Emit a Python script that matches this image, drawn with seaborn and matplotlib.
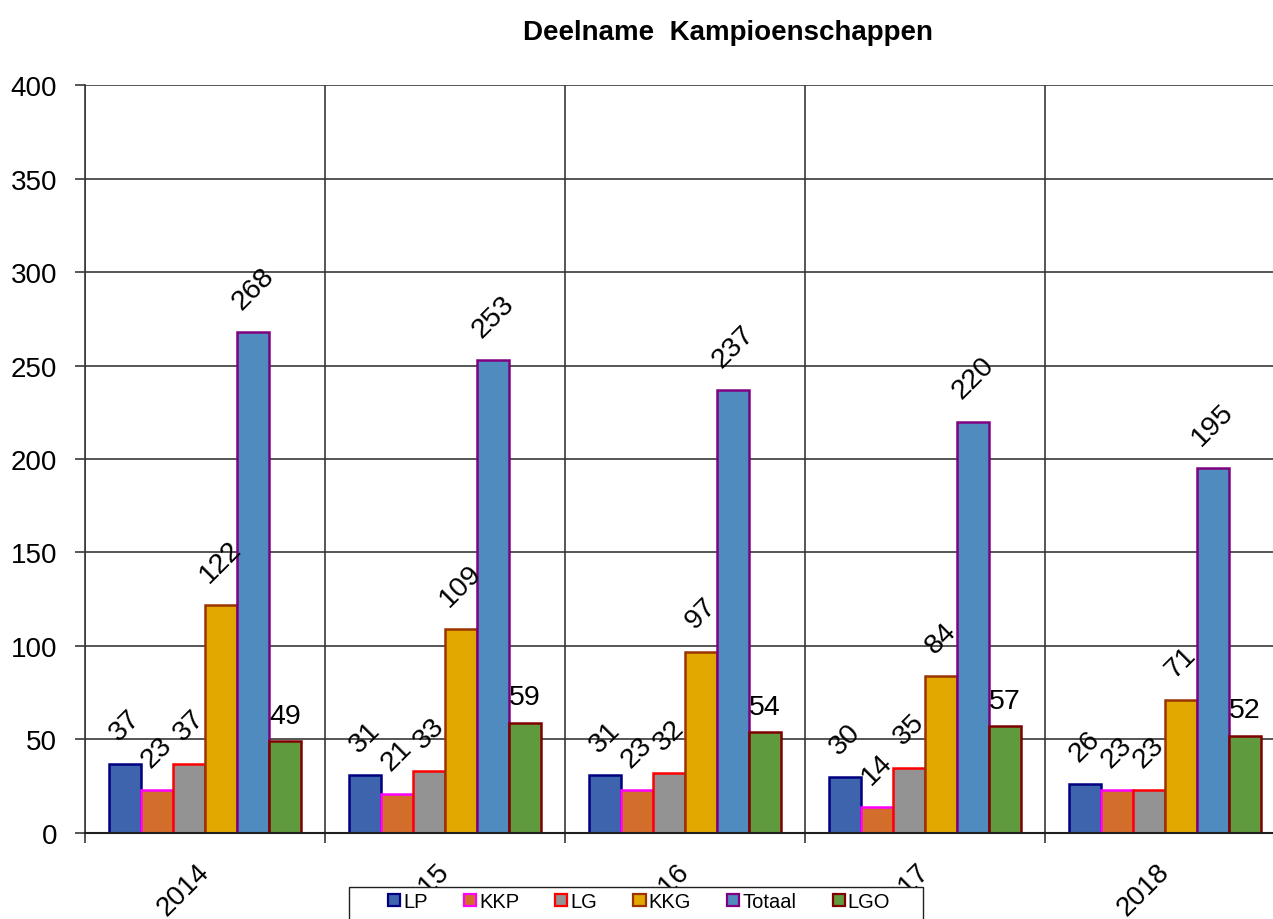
import matplotlib
matplotlib.use("Agg")
import matplotlib.pyplot as plt
from matplotlib.patches import Patch, Rectangle
import pandas as pd
import seaborn as sns

# data
jaren = ["2014", "2015", "2016", "2017", "2018"]
series = ["LP", "KKP", "LG", "KKG", "Totaal", "LGO"]
lp = [37, 31, 31, 30, 26]
kkp = [23, 21, 23, 14, 23]
lg = [37, 33, 32, 35, 23]
kkg = [122, 109, 97, 84, 71]
totaal = [268, 253, 237, 220, 195]
lgo = [49, 59, 54, 57, 52]

fill_colors = ["#3F64AE", "#D36D2C", "#939393", "#E2A800", "#4F8BBE", "#5F9A3E"]
edge_colors = ["#000080", "#FF00FF", "#FF0000", "#993300", "#800080", "#800000"]

df = pd.DataFrame({"LP": lp, "KKP": kkp, "LG": lg, "KKG": kkg,
                   "Totaal": totaal, "LGO": lgo}, index=jaren)
df = df.reset_index(names="jaar").melt(id_vars="jaar", var_name="serie",
                                       value_name="aantal")

sns.set_style("white")
plt.rcParams["font.family"] = ["Liberation Sans", "DejaVu Sans"]
plt.rcParams["text.color"] = "black"
plt.rcParams["xtick.labelcolor"] = "black"
plt.rcParams["ytick.labelcolor"] = "black"

fig = plt.figure(figsize=(12.73, 9.2), dpi=100)
ax = fig.add_axes([0.0668, 0.0935, 0.9427, 0.813])

sns.barplot(data=df, x="jaar", y="aantal", hue="serie", hue_order=series,
            order=jaren, palette=fill_colors, saturation=1, width=0.8,
            errorbar=None, legend=False, ax=ax)

for i, cont in enumerate(ax.containers):
    for bar in cont:
        bar.set_edgecolor(edge_colors[i])
        bar.set_linewidth(1.8)
    if series[i] == "LGO":
        ax.bar_label(cont, padding=9, fontsize=20.5, color="black")
    else:
        ax.bar_label(cont, padding=13, rotation=45, fontsize=20.5,
                     color="black")

ax.set_xlim(-0.5, 4.5)
ax.set_ylim(0, 400)
ax.set_yticks(range(0, 401, 50))
ax.set_xticks([-0.5, 0.5, 1.5, 2.5, 3.5, 4.5], minor=True)
ax.set_axisbelow(True)
ax.yaxis.grid(True, color="#383838", linewidth=1.2)
ax.xaxis.grid(True, which="minor", color="#383838", linewidth=1.2)
ax.tick_params(axis="x", which="major", length=0, pad=25, labelsize=20)
ax.tick_params(axis="x", which="minor", direction="out", length=7,
               width=1.2, color="#383838", bottom=True)
ax.tick_params(axis="y", direction="out", length=7, width=1.2,
               color="#383838", pad=13, labelsize=20, left=True)
for lbl in ax.get_xticklabels():
    lbl.set_rotation(45)
    lbl.set_rotation_mode("anchor")
    lbl.set_ha("right")
    lbl.set_va("center")
ax.set_xlabel("")
ax.set_ylabel("")
for side in ["top", "right"]:
    ax.spines[side].set_visible(False)
ax.spines["left"].set_color("#383838")
ax.spines["bottom"].set_color("#202020")
ax.spines["left"].set_linewidth(1.2)
ax.spines["bottom"].set_linewidth(1.5)

fig.text(0.572, 0.964, "Deelname  Kampioenschappen", ha="center",
         va="center", fontsize=20, fontweight="bold")

# legend box covers the lower part of the year labels, as in the original
box = Rectangle((349 / 1273, -0.01), 574 / 1273, (32 + 9) / 920,
                transform=fig.transFigure, facecolor="white",
                edgecolor="#202020", linewidth=1.0, zorder=9)
fig.patches.append(box)

handles = [Patch(facecolor=f, edgecolor=e, linewidth=1.6)
           for f, e in zip(fill_colors, edge_colors)]
leg = fig.legend(handles, series, loc="upper left",
                 bbox_to_anchor=(388 / 1273, 1 - 893 / 920), ncol=6,
                 fontsize=14.5, frameon=False, handlelength=0.6,
                 handleheight=0.6, handletextpad=0.15, columnspacing=1.8,
                 borderpad=0.0, borderaxespad=0)
leg.set_zorder(10)

fig.savefig("out.png", dpi=100)
